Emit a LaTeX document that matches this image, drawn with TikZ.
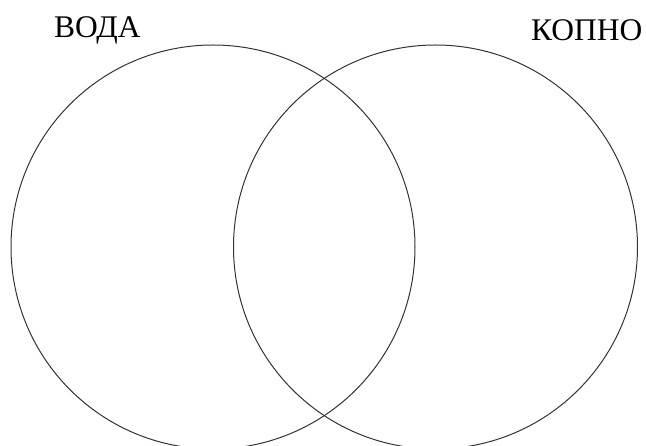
\documentclass[tikz,border=0pt]{standalone}
\usepackage{fontspec}
\setmainfont{Liberation Serif}
\begin{document}
\begin{tikzpicture}[x=1pt,y=-1pt,
  set/.style={draw=black!80,line width=1pt},
  lbl/.style={inner sep=0pt,anchor=base west,font=\fontsize{31.5}{36}\selectfont}]
\useasboundingbox (0,0) rectangle (646,446);
\node[set,circle,minimum size=404pt,inner sep=0pt] (voda) at (213,247) {};
\node[set,circle,minimum size=404pt,inner sep=0pt] (kopno) at (435.5,247) {};
\node[lbl] (lv) at (54,38) {ВОДА};
\node[lbl] (lk) at (531,41) {КОПНО};
\end{tikzpicture}
\end{document}
